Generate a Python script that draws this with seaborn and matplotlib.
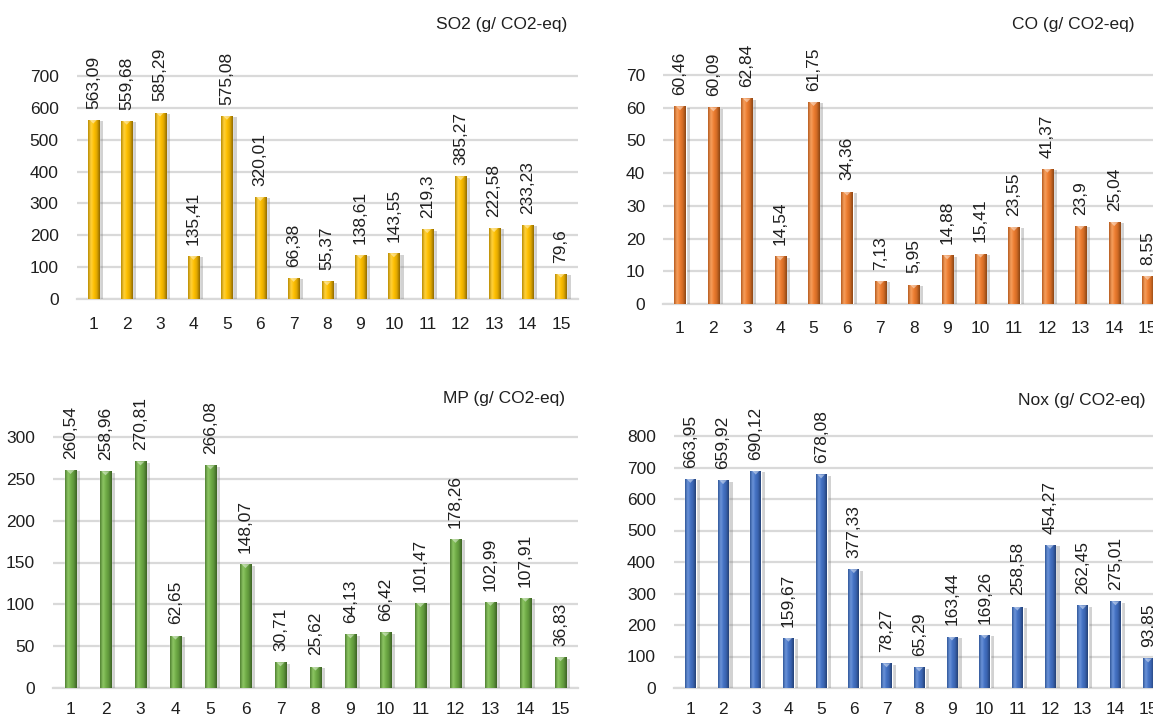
import numpy as np
import pandas as pd
import matplotlib
matplotlib.use("Agg")
import matplotlib.pyplot as plt
import matplotlib.patheffects as pe
from matplotlib.colors import LinearSegmentedColormap
import seaborn as sns

# ---- data -------------------------------------------------------------
categories = [str(i) for i in range(1, 16)]

so2 = [563.09, 559.68, 585.29, 135.41, 575.08, 320.01, 66.38, 55.37,
       138.61, 143.55, 219.3, 385.27, 222.58, 233.23, 79.6]
co = [60.46, 60.09, 62.84, 14.54, 61.75, 34.36, 7.13, 5.95,
      14.88, 15.41, 23.55, 41.37, 23.9, 25.04, 8.55]
mp = [260.54, 258.96, 270.81, 62.65, 266.08, 148.07, 30.71, 25.62,
      64.13, 66.42, 101.47, 178.26, 102.99, 107.91, 36.83]
nox = [663.95, 659.92, 690.12, 159.67, 678.08, 377.33, 78.27, 65.29,
       163.44, 169.26, 258.58, 454.27, 262.45, 275.01, 93.85]

titles = ["SO2 (g/ CO2-eq)", "CO (g/ CO2-eq)", "MP (g/ CO2-eq)", "Nox (g/ CO2-eq)"]

# ---- style ------------------------------------------------------------
sns.set_theme(style="white")
plt.rcParams["font.family"] = ["Liberation Sans", "DejaVu Sans"]
TEXT = "#1F1F1F"
GRID = "#D9D9D9"

W, H = 1153, 717
fig = plt.figure(figsize=(W / 100, H / 100), dpi=100)


def frac_box(x0, x1, top, bottom):
    """Pixel box -> figure fraction rectangle."""
    return [x0 / W, 1 - bottom / H, (x1 - x0) / W, (bottom - top) / H]


# gradient stops for the cylinder look: dark edge, highlight, body, shade
shades = {
    "so2": ["#B88A00", "#FFD23F", "#FFC000", "#E0A800", "#8F6A00"],
    "co": ["#B55A1E", "#F7A15F", "#ED7D31", "#D06A25", "#8A4514"],
    "mp": ["#4E7E30", "#8FC765", "#70AD47", "#5E943B", "#3B6123"],
    "nox": ["#2E5597", "#6D95DA", "#4472C4", "#3A63AE", "#233F74"],
}

panels = [
    # key, values, title, px box (x0, x1, top, zero), ticks, top tick, title anchor, x pad
    ("so2", so2, titles[0], (76.6, 577.6, 30, 299), np.arange(0, 701, 100), 700, (567, 25), 13),
    ("co", co, titles[1], (663.3, 1164.3, 30, 304), np.arange(0, 71, 10), 70, (1135, 25), 12),
    ("mp", mp, titles[2], (53, 578, 398, 688), np.arange(0, 301, 50), 300, (565, 398), 10),
    ("nox", nox, titles[3], (674, 1164.5, 398, 688), np.arange(0, 801, 100), 800, (1145, 400), 10),
]

top_px = {"so2": 76, "co": 75, "mp": 437, "nox": 436}

for key, vals, title, (x0, x1, top, zero), ticks, tmax, (tx, ty), xpad in panels:
    ax = fig.add_axes(frac_box(x0, x1, top, zero))
    scale = (zero - top_px[key]) / tmax          # px per unit
    ymax = (zero - top) / scale

    df = pd.DataFrame({"cat": categories, "val": vals})
    sns.barplot(data=df, x="cat", y="val", ax=ax, color=shades[key][2],
                width=0.33, saturation=1, errorbar=None, zorder=3)

    ax.set_ylim(0, ymax)
    ax.set_xlim(-0.5, len(categories) - 0.5)
    ax.set_yticks(ticks)
    ax.set_xlabel("")
    ax.set_ylabel("")
    ax.yaxis.grid(True, color=GRID, linewidth=1.6, zorder=0)
    ax.xaxis.grid(False)
    for s in ["top", "right", "left"]:
        ax.spines[s].set_visible(False)
    ax.spines["bottom"].set_color(GRID)
    ax.spines["bottom"].set_linewidth(1.6)
    ax.tick_params(axis="both", length=0, labelsize=12.5, colors=TEXT)
    ax.tick_params(axis="y", pad=13)
    ax.tick_params(axis="x", pad=xpad)
    ax.set_facecolor("none")

    cmap = LinearSegmentedColormap.from_list(key, shades[key])
    grad = np.linspace(0, 1, 64).reshape(1, -1)
    for patch, v in zip(ax.patches, vals):
        patch.set_path_effects([
            pe.SimplePatchShadow(offset=(3, -1), shadow_rgbFace="#7F7F7F", alpha=0.35),
            pe.Normal(),
        ])
        bx, bw = patch.get_x(), patch.get_width()
        im = ax.imshow(grad, cmap=cmap, aspect="auto", extent=(bx, bx + bw, 0, v),
                       zorder=4, interpolation="bicubic")
        im.set_clip_path(patch)
        # bevel on the top face
        tri_h = 4 / scale
        ax.fill([bx + bw * 0.15, bx + bw * 0.85, bx + bw * 0.5],
                [v, v, v - tri_h], color="white", alpha=0.45, zorder=5, lw=0)
        label = f"{v:.2f}".rstrip("0").rstrip(".").replace(".", ",")
        ax.annotate(label, (patch.get_x() + bw / 2, v), xytext=(0, 8),
                    textcoords="offset points", rotation=90, ha="center",
                    va="bottom", fontsize=12.5, color=TEXT, zorder=6,
                    annotation_clip=False)
    ax.set_xlim(-0.5, len(categories) - 0.5)
    ax.set_ylim(0, ymax)

    fig.text(tx / W, 1 - ty / H, title, ha="right", va="center",
             fontsize=12.5, color=TEXT)

fig.savefig("out.png", dpi=100)
